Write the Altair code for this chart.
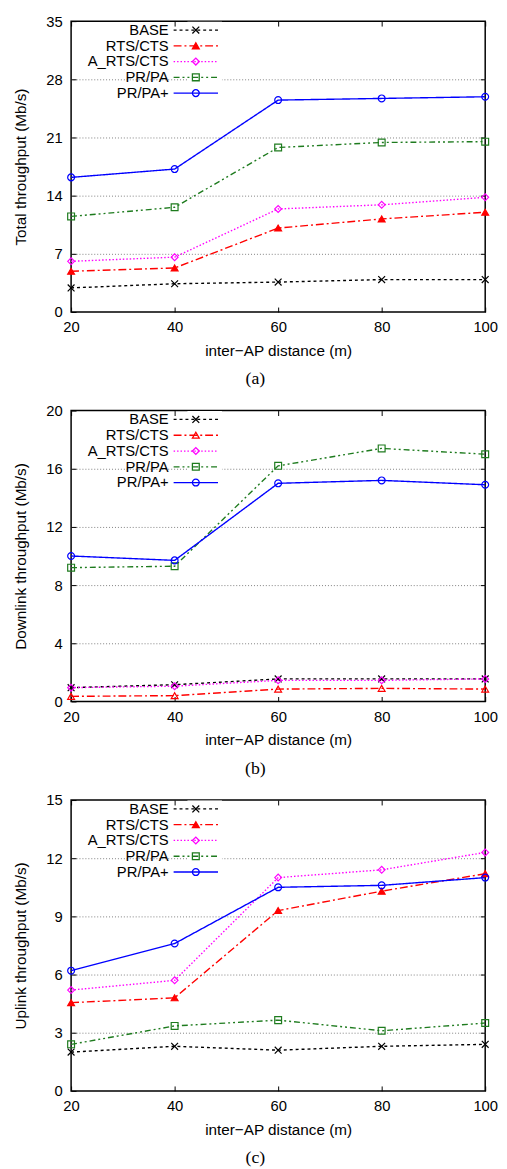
import altair as alt
import pandas as pd

FONT = "Liberation Sans"

x_vals = [20, 40, 60, 80, 100]
series = ["BASE", "RTS/CTS", "A_RTS/CTS", "PR/PA", "PR/PA+"]

# (a) Total throughput
total_base = [2.9, 3.4, 3.6, 3.9, 3.9]
total_rts = [4.9, 5.3, 10.1, 11.2, 12.0]
total_arts = [6.1, 6.6, 12.4, 12.9, 13.8]
total_prpa = [11.5, 12.6, 19.8, 20.4, 20.5]
total_prpa_plus = [16.2, 17.2, 25.5, 25.7, 25.9]

# (b) Downlink throughput
down_base = [0.95, 1.15, 1.55, 1.55, 1.55]
down_rts = [0.35, 0.4, 0.85, 0.9, 0.85]
down_arts = [0.95, 1.05, 1.45, 1.45, 1.55]
down_prpa = [9.2, 9.3, 16.2, 17.4, 17.0]
down_prpa_plus = [10.0, 9.7, 15.0, 15.2, 14.9]

# (c) Uplink throughput
up_base = [2.0, 2.3, 2.1, 2.3, 2.4]
up_rts = [4.55, 4.8, 9.3, 10.3, 11.2]
up_arts = [5.2, 5.7, 11.0, 11.4, 12.3]
up_prpa = [2.4, 3.35, 3.65, 3.1, 3.5]
up_prpa_plus = [6.2, 7.6, 10.5, 10.6, 11.0]

colors = ["#000000", "#ff0000", "#ff00ff", "#1e7b1e", "#0000ff"]
dashes = [[3, 3], [8, 3, 2, 3], [1.5, 2], [6, 3, 2, 3, 2, 3], [1, 0]]
shapes = ["M-1,-1L1,1M-1,1L1,-1", "triangle-up", "diamond", "square", "circle"]

W, H = 420, 295
MSIZE = 48


def legend_props():
    return dict(
        orient="none", legendX=118, legendY=0.5, title=None,
        symbolSize=MSIZE, symbolStrokeWidth=1.3, rowPadding=0,
        labelAlign="right", labelOffset={"expr": "-35"},
        labelFont=FONT, labelFontSize=15, labelColor="black", labelLimit=300,
        padding=1,
    )


def panel(vals, ymax, ystep, ytitle, cap, tri_filled):
    rows = []
    for k, (name, ys) in enumerate(zip(series, vals)):
        for xv, yv in zip(x_vals, ys):
            rows.append({"x": xv, "v": yv, "s": name, "k": k})
    df = pd.DataFrame(rows)
    yticks = list(range(0, ymax + 1, ystep))
    fills = ["transparent", "#ff0000" if tri_filled else "transparent",
             "transparent", "transparent", "transparent"]
    xs = alt.Scale(domain=[20, 100], nice=False, zero=False)
    ysc = alt.Scale(domain=[0, ymax], nice=False, zero=True)

    leg_line = alt.Legend(symbolType="M-6.5,0L6.5,0", fillColor="white", **legend_props())
    leg_pt = alt.Legend(labelExpr="' '", **legend_props())

    lines = alt.Chart(df).mark_line(strokeWidth=1.4).encode(
        x=alt.X("x:Q", scale=xs, axis=alt.Axis(orient="bottom", values=x_vals,
                title="inter\u2212AP distance (m)", offset=-5, tickSize=5, domain=False,
                grid=False, labelPadding=8, titlePadding=9, labelFlush=False)),
        y=alt.Y("v:Q", scale=ysc, axis=alt.Axis(orient="left", values=yticks, title=ytitle,
                offset=-5, tickSize=5, domain=False, grid=False, labelPadding=9,
                titlePadding=18, labelFlush=False)),
        color=alt.Color("s:N", scale=alt.Scale(domain=series, range=colors), legend=leg_line),
        strokeDash=alt.StrokeDash("s:N", scale=alt.Scale(domain=series, range=dashes),
                                  legend=leg_line),
    )
    pts = alt.Chart(df).mark_point(size=MSIZE, strokeWidth=1.2, opacity=1).encode(
        x=alt.X("x:Q", scale=xs, axis=alt.Axis(orient="top", values=x_vals, offset=-5,
                tickSize=5, labels=False, domain=False, grid=False, title=None)),
        y=alt.Y("v:Q", scale=ysc, axis=alt.Axis(orient="right", values=yticks[1:-1], offset=-5,
                tickSize=5, labels=False, domain=False, grid=True, gridDash=[1, 2],
                gridColor="#808080", gridWidth=1, title=None)),
        shape=alt.Shape("k:N", scale=alt.Scale(domain=list(range(5)), range=shapes), legend=leg_pt),
        stroke=alt.Stroke("k:N", scale=alt.Scale(domain=list(range(5)), range=colors), legend=leg_pt),
        fill=alt.Fill("k:N", scale=alt.Scale(domain=list(range(5)), range=fills), legend=leg_pt),
    )
    return alt.layer(lines, pts).resolve_axis(x="independent", y="independent").properties(
        width=W, height=H,
        title=alt.TitleParams(cap, orient="bottom", font="Liberation Serif", fontSize=18,
                              fontWeight="normal", color="black", frame="bounds",
                              anchor="middle", offset=12),
    )


pa = panel([total_base, total_rts, total_arts, total_prpa, total_prpa_plus], 35, 7,
           "Total throughput (Mb/s)", "(a)", True)
pb = panel([down_base, down_rts, down_arts, down_prpa, down_prpa_plus], 20, 4,
           "Downlink throughput (Mb/s)", "(b)", False)
pc = panel([up_base, up_rts, up_arts, up_prpa, up_prpa_plus], 15, 3,
           "Uplink throughput (Mb/s)", "(c)", True)

chart = alt.vconcat(pa, pb, pc, spacing=13).resolve_scale(
    color="independent", strokeDash="independent", shape="independent",
    stroke="independent", fill="independent",
).properties(
    padding={"left": 4, "top": -3, "right": 0, "bottom": 0}
).configure_view(stroke="black", strokeWidth=1.5).configure_axis(
    labelFont=FONT, titleFont=FONT, labelFontSize=15, titleFontSize=15.5,
    titleFontWeight="normal", labelColor="black", titleColor="black",
    tickColor="black", tickWidth=1,
)

chart.save("out.html", embed_options={"renderer": "svg", "actions": False})
